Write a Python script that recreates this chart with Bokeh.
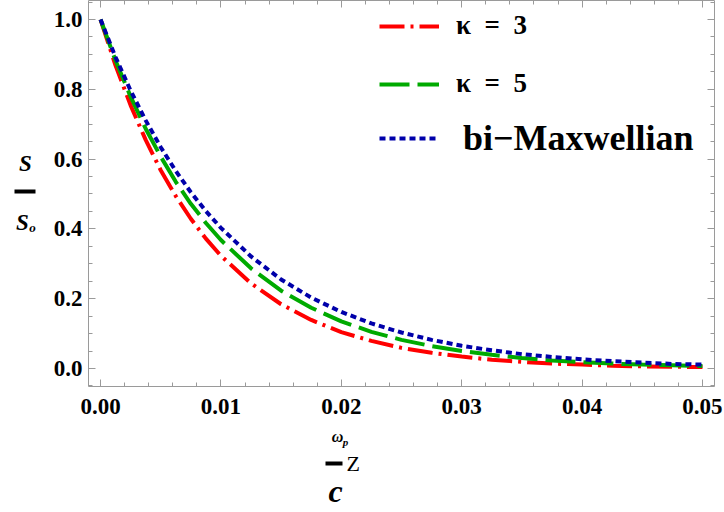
from bokeh.plotting import figure
from bokeh.layouts import column, row
from bokeh.models import (Range1d, LinearAxis, SingleIntervalTicker, PrintfTickFormatter,
                          CustomJSTickFormatter, Legend, LegendItem, Label, BoxAnnotation)
from bokeh.core.validation import silence
from bokeh.core.validation.warnings import MISSING_RENDERERS
from bokeh.embed import file_html
from bokeh.resources import INLINE

# normalised distance (omega_p / c) z
z = [0.0, 0.00125, 0.0025, 0.00375, 0.005, 0.00625, 0.0075, 0.00875, 0.01,
     0.0125, 0.015, 0.0175, 0.02, 0.0225, 0.025, 0.0275, 0.03, 0.0325, 0.035,
     0.0375, 0.04, 0.0425, 0.045, 0.0475, 0.05]

# S / S_o for each distribution
s_kappa3 = [1.0, 0.868, 0.754, 0.655, 0.568, 0.494, 0.429, 0.372, 0.323,
            0.244, 0.184, 0.139, 0.104, 0.079, 0.059, 0.045, 0.034, 0.025, 0.019,
            0.014, 0.011, 0.008, 0.006, 0.005, 0.004]
s_kappa5 = [1.0, 0.882, 0.779, 0.687, 0.607, 0.535, 0.472, 0.417, 0.368,
            0.287, 0.223, 0.174, 0.135, 0.105, 0.082, 0.064, 0.050, 0.039, 0.030,
            0.023, 0.018, 0.014, 0.011, 0.009, 0.007]
s_bimax = [1.0, 0.892, 0.796, 0.711, 0.634, 0.566, 0.505, 0.451, 0.403,
           0.321, 0.255, 0.203, 0.162, 0.129, 0.103, 0.082, 0.065, 0.052, 0.041,
           0.033, 0.026, 0.021, 0.017, 0.013, 0.011]

series_labels = ["κ\u2002=\u20023", "κ\u2002=\u20025", "bi−Maxwellian"]

silence(MISSING_RENDERERS, True)

SERIF = "Liberation Serif"
FRAME = "#9a9a9a"
W, H = 724, 512
YLAB_W = 40          # strip holding the S/S_o fraction
MAIN_H = 424         # main plot height (frame + tick labels)
FRAME_BOTTOM = 386   # canvas row of the plot frame's lower edge

p = figure(width=W - YLAB_W, height=MAIN_H, output_backend="svg", toolbar_location=None,
           x_range=Range1d(-0.001, 0.051), y_range=Range1d(-0.0517, 1.0545),
           x_axis_type=None, y_axis_type=None,
           min_border_left=88 - YLAB_W, min_border_right=10, min_border_top=0,
           min_border_bottom=MAIN_H - FRAME_BOTTOM)
p.outline_line_color = None
p.background_fill_color = "white"
p.border_fill_color = "white"


def frame_axis(axis, interval, minor, fmt, show_labels=True):
    axis.ticker = SingleIntervalTicker(interval=interval, num_minor_ticks=minor)
    axis.axis_line_color = FRAME
    axis.major_tick_line_color = FRAME
    axis.minor_tick_line_color = FRAME
    axis.major_tick_in = 7
    axis.major_tick_out = 0
    axis.minor_tick_in = 4
    axis.minor_tick_out = 0
    if show_labels:
        axis.formatter = PrintfTickFormatter(format=fmt)
        axis.major_label_text_font = SERIF
        axis.major_label_text_font_style = "bold"
        axis.major_label_text_font_size = "23px"
        axis.major_label_text_color = "black"
    else:
        axis.formatter = CustomJSTickFormatter(code="return ''")
        axis.major_label_standoff = 0
    return axis


left = frame_axis(LinearAxis(), 0.2, 4, "%.1f")
left.major_label_standoff = 6
bottom = frame_axis(LinearAxis(), 0.01, 5, "%.2f")
bottom.major_label_standoff = 12
right = frame_axis(LinearAxis(), 0.2, 4, "", show_labels=False)
top = frame_axis(LinearAxis(), 0.01, 5, "", show_labels=False)
p.add_layout(left, "left")
p.add_layout(bottom, "below")
p.add_layout(right, "right")
p.add_layout(top, "above")

r3 = p.line(z, s_kappa3, line_color="#ff0000", line_width=4, line_dash="25 6 3 6")
r5 = p.line(z, s_kappa5, line_color="#00aa00", line_width=4, line_dash="30 8")
rb = p.line(z, s_bimax, line_color="#0000aa", line_width=4, line_dash="6 4")


def make_legend(items, size, row_h, spacing, standoff, loc):
    return Legend(items=items, location=loc, glyph_width=60, glyph_height=row_h,
                  label_height=row_h, label_standoff=standoff, spacing=spacing,
                  padding=0, margin=0, border_line_color=None,
                  background_fill_alpha=0, label_text_font=SERIF,
                  label_text_font_style="bold", label_text_font_size=size,
                  label_text_color="black")


leg1 = make_legend([LegendItem(label=series_labels[0], renderers=[r3]),
                    LegendItem(label=series_labels[1], renderers=[r5])],
                   "27px", 30, 27, 17, (291, 287))
leg2 = make_legend([LegendItem(label=series_labels[2], renderers=[rb])],
                   "36px", 36, 0, 24, (291, 227))
p.add_layout(leg1, "center")
p.add_layout(leg2, "center")


def strip(width, height):
    f = figure(width=width, height=height, output_backend="svg", toolbar_location=None,
               x_range=Range1d(0, 1), y_range=Range1d(0, 1),
               x_axis_type=None, y_axis_type=None, min_border=0)
    f.outline_line_color = None
    f.background_fill_color = "white"
    f.border_fill_color = "white"
    f.grid.visible = False
    return f


def text(f, t, x, y, size, style="bold italic", align="center"):
    # y is counted up from the strip frame's lower edge
    f.add_layout(Label(x=x, y=y, x_units="screen", y_units="screen",
                       text=t, text_font=SERIF, text_font_style=style,
                       text_font_size=size, text_align=align,
                       text_baseline="middle", text_color="black"))


def bar(f, x0, x1, y):
    f.add_layout(BoxAnnotation(left=x0, right=x1, bottom=y - 2, top=y + 2,
                               left_units="screen", right_units="screen",
                               bottom_units="screen", top_units="screen",
                               fill_color="black", fill_alpha=1, line_color=None))


# y-axis label: S / S_o  (the strip's frame lines up with the main frame)
ylab = strip(YLAB_W, MAIN_H)
text(ylab, "S", 25, FRAME_BOTTOM - 163, "23px")
bar(ylab, 14, 35, FRAME_BOTTOM - 191)
text(ylab, "S", 22, FRAME_BOTTOM - 222, "23px")
text(ylab, "o", 32, FRAME_BOTTOM - 227, "13px")

# x-axis label: (omega_p / c) Z
xlab = strip(W, H - MAIN_H)
hb = H  # strip bottom is the canvas bottom
text(xlab, "ω", 337, hb - 436, "16px")
text(xlab, "p", 345, hb - 441, "11px")
bar(xlab, 325, 342, hb - 463)
text(xlab, "Z", 346, hb - 463, "22px", style="normal", align="left")
text(xlab, "c", 335, hb - 490, "32px")

layout = column(row(ylab, p, spacing=0), xlab, spacing=0)
open("out.html", "w").write(file_html(layout, INLINE))
